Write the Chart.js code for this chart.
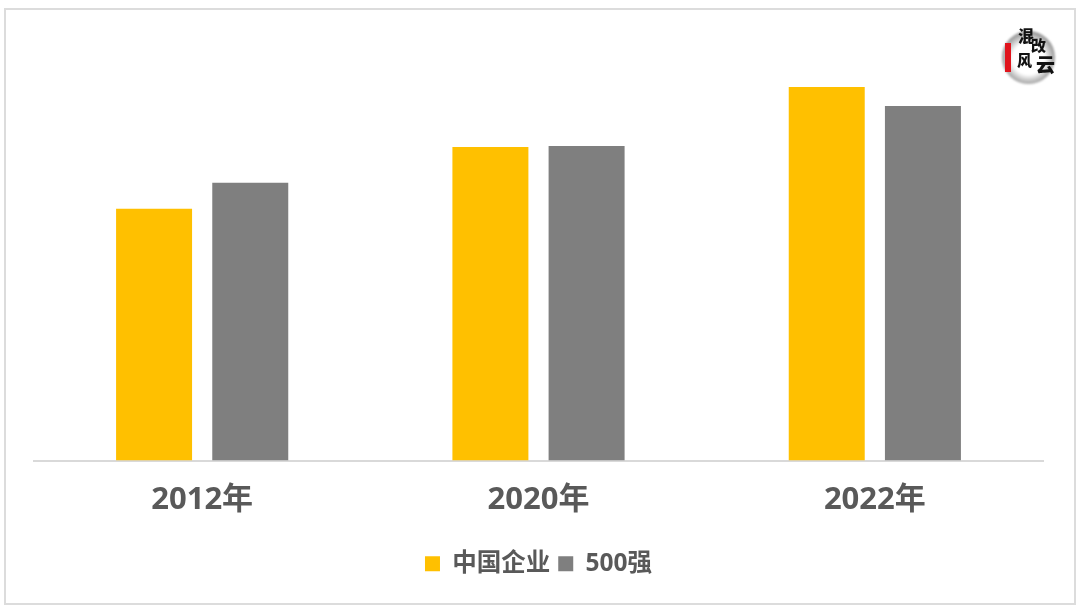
<!DOCTYPE html>
<html>
<head>
<meta charset="utf-8">
<script src="https://cdn.jsdelivr.net/npm/chart.js@4/dist/chart.umd.min.js"></script>
<style>
html, body { margin: 0; padding: 0; background: #fff; }
#wrap { position: relative; width: 1080px; height: 610px; overflow: hidden; }
#frame { position: absolute; left: 4px; top: 8px; width: 1068px; height: 593px; border: 2px solid #dcdcdc; }
#logo { position: absolute; left: 1002px; top: 31px; width: 53px; height: 53px; border-radius: 50%;
  background: radial-gradient(circle at 50% 52%, #fff 0 42%, #b5b5b5 62%, #5f5f5f 84%, #a8a8a8 100%); filter: blur(0.8px); }
#stamp { position: absolute; left: 1005px; top: 43px; width: 6px; height: 29px; background: #e0141c; }
.zi { position: absolute; font-family: "Noto Sans CJK SC", serif; font-weight: 900; color: #111; line-height: 1; filter: blur(0.3px); }
</style>
</head>
<body>
<div id="wrap">
  <canvas id="grafica" width="1080" height="610"></canvas>
  <div id="frame"></div>
  <div id="logo"></div>
  <div id="stamp"></div>
  <div class="zi" style="left:1018px;top:27px;font-size:16px">混</div>
  <div class="zi" style="left:1031px;top:37px;font-size:15px">改</div>
  <div class="zi" style="left:1017px;top:52px;font-size:15px">风</div>
  <div class="zi" style="left:1036px;top:54px;font-size:19px">云</div>
</div>
<script>
const categorias = ['2012年', '2020年', '2022年'];
const nombresSeries = ['中国企业', '500强'];
const valoresChina = [252, 314, 374];
const valores500 = [278, 315, 355];

const familia = "'Open Sans', 'Noto Sans CJK SC', sans-serif";

new Chart(document.getElementById('grafica').getContext('2d'), {
    type: 'bar',
    data: {
        labels: categorias,
        datasets: [
            { label: nombresSeries[0], data: valoresChina, backgroundColor: '#FFC000' },
            { label: nombresSeries[1], data: valores500, backgroundColor: '#7F7F7F' }
        ]
    },
    options: {
        responsive: false,
        animation: false,
        devicePixelRatio: 1,
        categoryPercentage: 0.572,
        barPercentage: 0.79,
        layout: { padding: { left: 34, right: 37, top: 61, bottom: 24 } },
        plugins: {
            tooltip: { enabled: false },
            legend: {
                position: 'bottom',
                labels: {
                    boxWidth: 15,
                    boxHeight: 15,
                    padding: 8,
                    color: '#595959',
                    font: { family: familia, size: 24.5, weight: 'bold' }
                }
            }
        },
        scales: {
            y: { display: false, min: 0, max: 400 },
            x: {
                afterFit: scale => { scale.height = 83; },
                grid: { display: false },
                border: { color: '#d9d9d9', width: 2 },
                ticks: {
                    color: '#595959',
                    padding: 13,
                    maxRotation: 0,
                    font: { family: familia, size: 31, weight: 'bold' }
                }
            }
        }
    }
});
</script>
</body>
</html>
